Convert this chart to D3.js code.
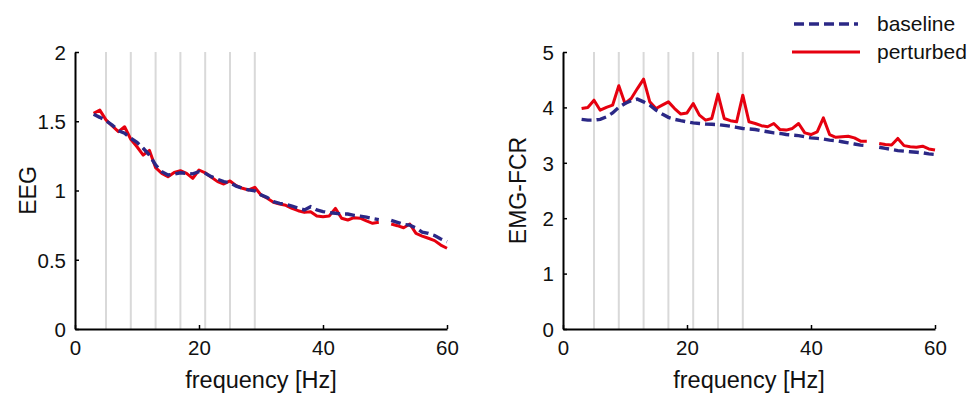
<!DOCTYPE html>
<html>
<head>
<meta charset="utf-8">
<script src="https://cdn.jsdelivr.net/npm/d3@7"></script>
<style>
  html, body { margin: 0; padding: 0; background: #fff; }
  svg { display: block; font-family: "Liberation Sans", Arial, Helvetica, sans-serif; }
</style>
</head>
<body>
<svg id="chart" width="971" height="396"></svg>
<script>
// ---------------- data ----------------
const freqs = d3.range(3, 61); // 3..60 Hz, 50 Hz removed (null)
const eegBaseline = [1.55,1.528,1.504,1.473,1.432,1.413,1.377,1.348,1.305,1.256,1.184,1.136,1.112,1.119,1.128,1.124,1.12,1.136,1.124,1.10,1.081,1.064,1.056,1.032,1.016,1.004,0.998,0.968,
  0.95,0.92,0.907,0.90,0.888,0.872,0.86,0.883,0.86,0.848,0.84,0.836,0.83,0.83,0.82,0.815,0.808,0.798,0.79,null,
  0.785,0.77,0.755,0.75,0.73,0.70,0.69,0.675,0.65,0.63];
const eegPerturbed = [1.557,1.58,1.51,1.466,1.425,1.46,1.37,1.316,1.256,1.29,1.165,1.124,1.10,1.13,1.143,1.124,1.088,1.148,1.128,1.095,1.064,1.047,1.069,1.035,1.016,1.004,1.023,0.968,
  0.944,0.915,0.903,0.893,0.871,0.854,0.842,0.847,0.816,0.811,0.816,0.871,0.80,0.787,0.804,0.80,0.78,0.763,0.77,null,
  0.758,0.746,0.731,0.758,0.69,0.671,0.655,0.638,0.606,0.583];
const emgBaseline = [3.785,3.77,3.77,3.785,3.83,3.90,4.0,4.07,4.12,4.15,4.10,4.04,3.95,3.88,3.82,3.785,3.76,3.74,3.72,3.71,3.70,3.695,3.69,3.675,3.66,3.64,3.62,3.61,
  3.60,3.58,3.56,3.54,3.53,3.51,3.50,3.49,3.47,3.45,3.44,3.43,3.41,3.40,3.38,3.36,3.34,3.32,3.31,null,
  3.28,3.26,3.24,3.22,3.21,3.20,3.19,3.18,3.16,3.15];
const emgPerturbed = [3.98,4.0,4.13,3.95,4.0,4.04,4.39,4.07,4.16,4.34,4.51,4.10,3.98,4.04,4.10,3.98,3.88,3.90,4.07,3.86,3.77,3.80,4.24,3.80,3.76,3.74,4.22,3.74,
  3.71,3.67,3.65,3.71,3.60,3.59,3.62,3.71,3.54,3.51,3.56,3.81,3.51,3.46,3.47,3.48,3.45,3.39,3.39,null,
  3.35,3.33,3.32,3.44,3.31,3.29,3.28,3.30,3.25,3.23];
const markerFreqs = [5, 9, 13, 17, 21, 25, 29];
const xTicks = [0, 20, 40, 60];
const eegTicks = [0, 0.5, 1, 1.5, 2];
const emgTicks = [0, 1, 2, 3, 4, 5];
const seriesNames = ["baseline", "perturbed"];
const xLabel = "frequency [Hz]";

// ---------------- style ----------------
const BLUE = "#2b2886";
const RED = "#e6000f";
const GREY = "#d9d9d9";
const DASH = "10,5";

const svg = d3.select("#chart");

function panel(cfg) {
  const x = d3.scaleLinear().domain([0, 60]).range([cfg.x0, cfg.x1]);
  const y = d3.scaleLinear().domain(cfg.yDomain).range([329, 52]);
  const g = svg.append("g");

  // grey vertical markers
  g.selectAll("line.mark").data(markerFreqs).enter().append("line")
    .attr("x1", d => x(d)).attr("x2", d => x(d))
    .attr("y1", y.range()[0]).attr("y2", y.range()[1])
    .attr("stroke", GREY).attr("stroke-width", 2);

  // axes
  const xa = g.append("g").attr("transform", `translate(0,${y(cfg.yDomain[0])})`)
    .call(d3.axisBottom(x).tickValues(xTicks).tickFormat(d3.format("d")).tickSize(-4).tickSizeOuter(0).tickPadding(11));
  const ya = g.append("g").attr("transform", `translate(${x(0)},0)`)
    .call(d3.axisLeft(y).tickValues(cfg.ticks).tickFormat(d => String(d)).tickSize(-4).tickSizeOuter(0).tickPadding(9));
  [xa, ya].forEach(a => {
    a.select(".domain").attr("stroke", "#000").attr("stroke-width", 2);
    a.selectAll(".tick line").attr("stroke", "#000").attr("stroke-width", 1.5);
    a.selectAll(".tick text").attr("fill", "#111").style("font-size", "20.5px");
  });
  ya.selectAll(".tick text").attr("dy", "0.36em");
  xa.selectAll(".tick text").attr("dy", "0.72em");

  const line = d3.line().defined(d => d[1] != null).x(d => x(d[0])).y(d => y(d[1]));
  g.append("path").datum(freqs.map((f, i) => [f, cfg.pert[i]]))
    .attr("d", line).attr("fill", "none").attr("stroke", RED).attr("stroke-width", 3).attr("stroke-linejoin", "round");
  g.append("path").datum(freqs.map((f, i) => [f, cfg.base[i]]))
    .attr("d", line).attr("fill", "none").attr("stroke", BLUE).attr("stroke-width", 3.4).attr("stroke-dasharray", DASH);

  // labels
  g.append("text").attr("x", (cfg.x0 + cfg.x1) / 2).attr("y", 388).attr("text-anchor", "middle")
    .style("font-size", "23.5px").attr("fill", "#111").text(xLabel);
  g.append("text").attr("transform", `translate(${cfg.ylx},${(52 + 329) / 2}) rotate(-90)`)
    .attr("text-anchor", "middle").style("font-size", "23px").attr("fill", "#111").text(cfg.ylabel);
}

panel({ x0: 75, x1: 447, yDomain: [0, 2], ticks: eegTicks, base: eegBaseline, pert: eegPerturbed, ylabel: "EEG", ylx: 36 });
panel({ x0: 563, x1: 935, yDomain: [0, 5], ticks: emgTicks, base: emgBaseline, pert: emgPerturbed, ylabel: "EMG-FCR", ylx: 526 });

// legend
const leg = svg.append("g");
leg.append("line").attr("x1", 794).attr("x2", 858).attr("y1", 24).attr("y2", 24)
  .attr("stroke", BLUE).attr("stroke-width", 3.4).attr("stroke-dasharray", DASH);
leg.append("line").attr("x1", 792).attr("x2", 860).attr("y1", 52).attr("y2", 52)
  .attr("stroke", RED).attr("stroke-width", 3);
leg.selectAll("text").data(seriesNames).enter().append("text")
  .attr("x", 877).attr("y", (d, i) => 31 + i * 28).style("font-size", "21px").attr("fill", "#111").text(d => d);
</script>
</body>
</html>
